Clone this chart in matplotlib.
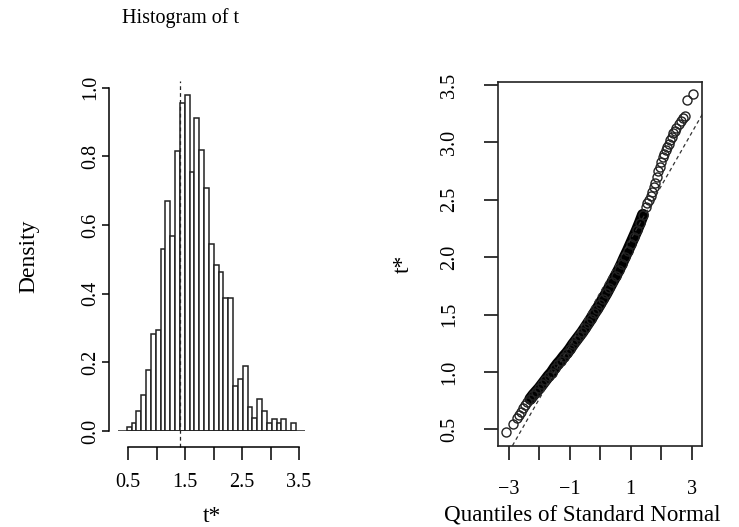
import numpy as np
import matplotlib
matplotlib.use("Agg")
import matplotlib.pyplot as plt

plt.rcParams['font.family'] = ['Liberation Serif', 'DejaVu Serif']

# histogram of bootstrap replicates t*
bin_start = 0.472
bin_width = 0.085
density = [0.013, 0.022, 0.058, 0.105, 0.178, 0.284, 0.294, 0.531, 0.671, 0.568,
           0.817, 0.957, 0.980, 0.755, 0.913, 0.818, 0.709, 0.546, 0.483, 0.462,
           0.389, 0.389, 0.131, 0.153, 0.190, 0.071, 0.037, 0.093, 0.058, 0.022,
           0.035, 0.022, 0.035, 0.0, 0.022]
t0 = 1.41
hist_xticks = [0.5, 1.0, 1.5, 2.0, 2.5, 3.0, 3.5]
hist_xticklabels = ['0.5', '', '1.5', '', '2.5', '', '3.5']
hist_yticks = [0.0, 0.2, 0.4, 0.6, 0.8, 1.0]

# normal QQ plot of t*
qq_z = [-3.09, -2.87, -2.75, -2.68, -2.60, -2.54, -2.47, -2.40,
        -2.3, -2.2, -2.1, -2.0, -1.9, -1.8, -1.7, -1.6, -1.5, -1.4,
        -1.3, -1.2, -1.1, -1.0, -0.9, -0.8, -0.7, -0.6, -0.5, -0.4,
        -0.3, -0.2, -0.1, 0.0, 0.1, 0.2, 0.3, 0.4, 0.5, 0.6,
        0.7, 0.8, 0.9, 1.0, 1.1, 1.2, 1.3, 1.4, 1.5,
        1.55, 1.6, 1.65, 1.7, 1.75, 1.8, 1.85, 1.9, 1.95, 2.0,
        2.05, 2.1, 2.15, 2.2, 2.25, 2.3, 2.35, 2.4, 2.45, 2.5,
        2.57, 2.65, 2.72, 2.78, 2.85, 3.05]
qq_t = [0.48, 0.55, 0.60, 0.625, 0.655, 0.685, 0.71, 0.735,
        0.765, 0.80, 0.83, 0.86, 0.895, 0.93, 0.965, 0.995, 1.035, 1.07,
        1.10, 1.135, 1.165, 1.20, 1.24, 1.275, 1.31, 1.345, 1.385, 1.425,
        1.465, 1.51, 1.55, 1.595, 1.64, 1.685, 1.735, 1.785, 1.835, 1.885,
        1.94, 2.0, 2.055, 2.115, 2.175, 2.235, 2.30, 2.37, 2.44,
        2.47, 2.50, 2.53, 2.57, 2.61, 2.65, 2.70, 2.75, 2.79, 2.83,
        2.87, 2.90, 2.93, 2.96, 2.99, 3.02, 3.05, 3.08, 3.10, 3.13,
        3.16, 3.19, 3.21, 3.23, 3.37, 3.42]
qq_line_intercept = 1.694
qq_line_slope = 0.463
qq_xticks = [-3, -2, -1, 0, 1, 2, 3]
qq_xticklabels = ['\u22123', '', '\u22121', '', '1', '', '3']
qq_yticks = [0.5, 1.0, 1.5, 2.0, 2.5, 3.0, 3.5]


def plot_histogram(fig):
    ax = fig.add_axes([118 / 739, 96 / 527, 187 / 739, 350 / 527])
    edges = bin_start + bin_width * np.arange(len(density))
    ax.bar(edges, density, width=bin_width, align='edge',
           facecolor='white', edgecolor='#222222', linewidth=1.1)
    ax.axhline(0, color='#222222', linewidth=1.1)
    ax.axvline(t0, ymin=-0.045, ymax=1.0, color='#222222',
               linestyle=(0, (3, 2.5)), linewidth=0.9, clip_on=False)
    ax.set_xlim(0.319, 3.605)
    ax.set_ylim(0, 1.02)

    for side in ['top', 'right']:
        ax.spines[side].set_visible(False)
    ax.spines['left'].set_position(('outward', 6.5))
    ax.spines['bottom'].set_position(('outward', 11.5))
    ax.spines['left'].set_bounds(0, 1.0)
    ax.spines['bottom'].set_bounds(0.5, 3.5)
    ax.spines['left'].set_linewidth(1.1)
    ax.spines['bottom'].set_linewidth(1.1)

    ax.set_xticks(hist_xticks)
    ax.set_xticklabels(hist_xticklabels)
    ax.set_yticks(hist_yticks)
    ax.set_yticklabels([f"{v:.1f}" for v in hist_yticks], rotation=90, va='center')
    ax.tick_params(direction='out', width=1.1, labelsize=14.5)
    ax.tick_params(axis='x', length=9, pad=10)
    ax.tick_params(axis='y', length=5, pad=1.5)
    ax.set_xlabel('t*', fontsize=17, labelpad=10)
    ax.set_ylabel('Density', fontsize=17)
    ax.yaxis.set_label_coords(-0.42, 0.5)
    fig.text(181 / 739, 1 - 18 / 527, 'Histogram of t', ha='center', va='center', fontsize=14.5)


def plot_qq(fig):
    ax = fig.add_axes([498.3 / 739, 81.3 / 527, 204 / 739, 364 / 527])
    z = np.array(qq_z)
    t = np.array(qq_t)
    band = (z > -2.35) & (z < 1.45)
    ax.plot(z[band], t[band], color='black', linewidth=8.5, solid_capstyle='round')
    ax.plot(z, t, linestyle='none', marker='o', markersize=6.5,
            markerfacecolor='none', markeredgecolor='#222222', markeredgewidth=1.0)
    ax.axline((0, qq_line_intercept), slope=qq_line_slope, color='#333333',
              linestyle=(0, (3, 2.5)), linewidth=0.9)
    ax.set_xlim(-3.35, 3.35)
    ax.set_ylim(0.358, 3.529)
    for side in ax.spines:
        ax.spines[side].set_linewidth(1.2)
        ax.spines[side].set_color('#222222')

    ax.set_xticks(qq_xticks)
    ax.set_xticklabels(qq_xticklabels)
    ax.set_yticks(qq_yticks)
    ax.set_yticklabels([f"{v:.1f}" for v in qq_yticks], rotation=90, va='center')
    ax.tick_params(direction='out', length=10, width=1.1, labelsize=14.5)
    ax.tick_params(axis='x', pad=15)
    ax.tick_params(axis='y', pad=18)
    ax.set_xlabel('Quantiles of Standard Normal', fontsize=16.6, labelpad=4, x=0.41)
    ax.set_ylabel('t*', fontsize=17, labelpad=19)


def main():
    fig = plt.figure(figsize=(7.39, 5.27), dpi=100)
    plot_histogram(fig)
    plot_qq(fig)
    fig.savefig('out.png', dpi=100)


if __name__ == "__main__":
    main()
